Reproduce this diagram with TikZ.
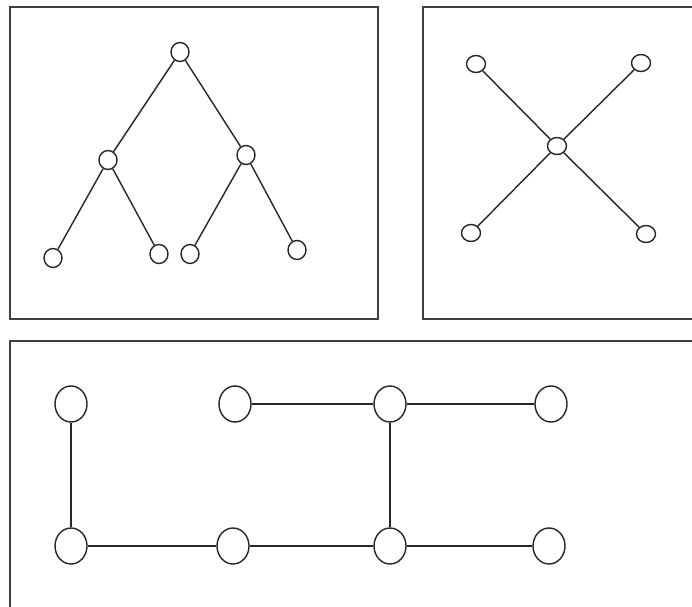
\documentclass[tikz,border=0pt]{standalone}
\usepackage{tikz}
\usetikzlibrary{shapes.geometric}
\tikzset{
  vtx/.style={ellipse,draw=black!85,line width=0.8pt,fill=white,inner sep=0pt},
  small/.style={vtx,minimum width=3.6mm,minimum height=3.8mm},
  wide/.style={vtx,minimum width=3.8mm,minimum height=3.4mm},
  big/.style={vtx,minimum width=6.4mm,minimum height=7.2mm},
  edge/.style={line width=0.8pt,black!85},
  frame/.style={line width=1.1pt,black!75},
}
\begin{document}
\begin{tikzpicture}[x=0.2mm,y=-0.2mm]
  \useasboundingbox (0,0) rectangle (692,607);

  % frames
  \draw[frame] (10,7) rectangle (378,319);
  \draw[frame] (692,7) -- (423,7) -- (423,319) -- (692,319);
  \draw[frame] (692,341) -- (10,341) -- (10,607);

  % tree
  \node[small] (r)  at (180,52)  {};
  \node[small] (a)  at (108,160) {};
  \node[small] (b)  at (246,155) {};
  \node[small] (a1) at (53,258)  {};
  \node[small] (a2) at (159,254) {};
  \node[small] (b1) at (190,254) {};
  \node[small] (b2) at (297,250) {};
  \foreach \u/\v in {r/a,r/b,a/a1,a/a2,b/b1,b/b2}
    \draw[edge] (\u) -- (\v);

  % star
  \node[wide] (c)  at (557,146) {};
  \node[wide] (s1) at (476,64)  {};
  \node[wide] (s2) at (641,63)  {};
  \node[wide] (s3) at (471,233) {};
  \node[wide] (s4) at (646,234) {};
  \foreach \v in {s1,s2,s3,s4}
    \draw[edge] (c) -- (\v);

  % grid
  \foreach \i/\x in {1/71,2/235,3/390,4/551}
    \node[big] (t\i) at (\x,404) {};
  \foreach \i/\x in {1/71,2/233,3/390,4/549}
    \node[big] (u\i) at (\x,546) {};
  \foreach \u/\v in {t1/u1,t2/t3,t3/t4,t3/u3,u1/u2,u2/u3,u3/u4}
    \draw[edge] (\u) -- (\v);
\end{tikzpicture}
\end{document}
